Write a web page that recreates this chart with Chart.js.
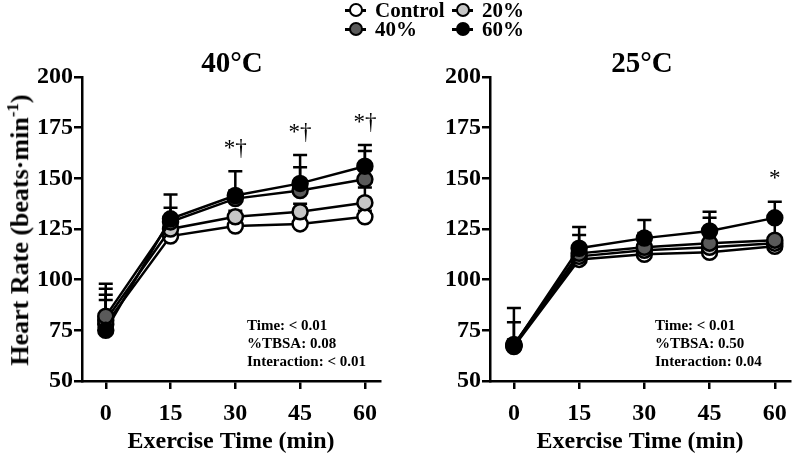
<!DOCTYPE html>
<html>
<head>
<meta charset="utf-8">
<script src="https://cdn.jsdelivr.net/npm/chart.js@4"></script>
<style>
  body { margin: 0; background: #fff; font-family: "Liberation Serif", "Times New Roman", serif; font-weight: bold; color: #000; }
  #wrap { position: relative; width: 800px; height: 457px; }
  canvas { position: absolute; top: 0; }
  .title { position: absolute; top: 46px; font-size: 29px; width: 140px; text-align: center; }
  .stats { position: absolute; font-size: 15px; line-height: 18px; }
  .ytitle { position: absolute; left: 19px; top: 230px; font-size: 26px; white-space: nowrap;
            transform: translate(-50%, -50%) rotate(-90deg); }
  .ytitle sup { font-size: 17px; }
  .leg { position: absolute; font-size: 21px; height: 20px; line-height: 20px; }
  .leg i { position: absolute; left: 0; top: 9px; width: 21px; height: 2.5px; background: #000; }
  .leg b { position: absolute; left: 4px; top: 3px; width: 10px; height: 10px; border: 2.5px solid #000; border-radius: 50%; }
  .leg span { position: absolute; left: 30px; top: 0; white-space: nowrap; }
</style>
</head>
<body>
<div id="wrap">
  <canvas id="hot" width="400" height="457" style="left:0"></canvas>
  <canvas id="cool" width="400" height="457" style="left:400px"></canvas>
  <div class="title" style="left:162px">40°C</div>
  <div class="title" style="left:572px">25°C</div>
  <div class="ytitle">Heart Rate (beats·min<sup>-1</sup>)</div>
  <div class="stats" style="left:247px;top:316px">Time: &lt; 0.01<br>%TBSA: 0.08<br>Interaction: &lt; 0.01</div>
  <div class="stats" style="left:655px;top:316px">Time: &lt; 0.01<br>%TBSA: 0.50<br>Interaction: 0.04</div>
  <div id="legend"></div>
</div>
<script>
const times = [0, 15, 30, 45, 60];
const groups = ["Control", "20%", "40%", "60%"];
const fills = ["#ffffff", "#c6c6c6", "#5a5a5a", "#000000"];

// 40°C
const hotControl = [78, 121.5, 126.5, 127.5, 131];
const hot20 = [80, 125, 131, 133.5, 138];
const hot40 = [82, 128.5, 140, 144, 149.5];
const hot60 = [75, 130, 141.5, 147.5, 156];
const hotControlSD = [12, 3, 3, 3, 3];
const hot20SD = [12.5, 5, 3, 4, 7.5];
const hot40SD = [13.5, 7, 4, 11.5, 14];
const hot60SD = [23, 12, 12, 14, 10.5];
const hotSig = ["", "", "*†", "*†", "*†"];

// 25°C
const coolControl = [67, 110, 112.5, 113.5, 116.5];
const cool20 = [67.5, 111.5, 114.5, 116, 118];
const cool40 = [68, 113, 116, 118, 119.5];
const cool60 = [67.5, 115.5, 120.5, 124, 130.5];
const coolControlSD = [3, 3, 3, 3, 3];
const cool20SD = [3, 3, 3, 3, 3];
const cool40SD = [11, 9, 7, 12.5, 9];
const cool60SD = [18.5, 10.5, 9, 9.5, 8];
const coolSig = ["", "", "", "", "*"];

const tickFont = { family: "'Liberation Serif', 'Times New Roman', serif", weight: "bold", size: 24 };

const errorBars = {
  id: "errorBars",
  beforeDatasetsDraw(chart) {
    const { ctx, scales: { x, y } } = chart;
    ctx.save();
    ctx.strokeStyle = "#000";
    ctx.lineWidth = 2.5;
    chart.data.datasets.forEach(ds => {
      ds.data.forEach((p, i) => {
        const px = x.getPixelForValue(p.x);
        const py = y.getPixelForValue(p.y);
        const top = y.getPixelForValue(p.y + ds.sd[i]);
        ctx.beginPath();
        ctx.moveTo(px, py);
        ctx.lineTo(px, top);
        ctx.moveTo(px - 7, top);
        ctx.lineTo(px + 7, top);
        ctx.stroke();
      });
    });
    // significance marks above the highest bar
    const sig = chart.options.plugins.errorBars.sig;
    ctx.fillStyle = "#000";
    ctx.font = "23px 'Liberation Serif', serif";
    ctx.textAlign = "center";
    ctx.textBaseline = "middle";
    times.forEach((t, i) => {
      if (!sig[i]) return;
      const tops = chart.data.datasets.map(ds => ds.data[i].y + ds.sd[i]);
      ctx.fillText(sig[i], x.getPixelForValue(t), y.getPixelForValue(Math.max(...tops) + 11));
    });
    ctx.restore();
  }
};

function makePanel(id, sets, sds, sig, yWidth, padRight) {
  return new Chart(document.getElementById(id), {
    type: "line",
    data: {
      datasets: groups.map((g, k) => ({
        label: g,
        data: times.map((t, i) => ({ x: t, y: sets[k][i] })),
        sd: sds[k],
        borderColor: "#000",
        borderWidth: 2.5,
        backgroundColor: fills[k],
        pointBackgroundColor: fills[k],
        pointBorderColor: "#000",
        pointBorderWidth: 2.5,
        pointRadius: 7.5,
        order: 3 - k
      }))
    },
    options: {
      responsive: false,
      animation: false,
      events: [],
      layout: { padding: { top: 77, right: padRight, bottom: 0, left: 0 } },
      plugins: { legend: { display: false }, tooltip: { enabled: false }, errorBars: { sig: sig } },
      scales: {
        x: {
          type: "linear", min: -5.5, max: 63.5,
          afterBuildTicks: s => { s.ticks = times.map(v => ({ value: v })); },
          afterFit: s => { s.height = 76; },
          grid: { drawOnChartArea: false, tickLength: 8, color: "#000", lineWidth: 2.5 },
          border: { color: "#000", width: 2.5 },
          ticks: { color: "#000", font: tickFont, padding: 10, maxRotation: 0 },
          title: { display: true, text: "Exercise Time (min)", color: "#000", font: tickFont, padding: { top: 4, bottom: 1 } }
        },
        y: {
          min: 50, max: 200,
          afterBuildTicks: s => { s.ticks = [50, 75, 100, 125, 150, 175, 200].map(v => ({ value: v })); },
          afterFit: s => { s.width = yWidth; },
          grid: { drawOnChartArea: false, tickLength: 8, color: "#000", lineWidth: 2.5 },
          border: { color: "#000", width: 2.5 },
          ticks: { color: "#000", font: tickFont, padding: 1 }
        }
      }
    },
    plugins: [errorBars]
  });
}

makePanel("hot", [hotControl, hot20, hot40, hot60], [hotControlSD, hot20SD, hot40SD, hot60SD], hotSig, 82, 20);
makePanel("cool", [coolControl, cool20, cool40, cool60], [coolControlSD, cool20SD, cool40SD, cool60SD], coolSig, 90, 10);

// legend
const legPos = [[345, 0], [452, 0], [345, 19], [452, 19]];
const legend = document.getElementById("legend");
groups.forEach((g, k) => {
  const d = document.createElement("div");
  d.className = "leg";
  d.style.left = legPos[k][0] + "px";
  d.style.top = legPos[k][1] + "px";
  d.innerHTML = '<i></i><b style="background:' + fills[k] + '"></b><span>' + g + "</span>";
  legend.appendChild(d);
});
</script>
</body>
</html>
